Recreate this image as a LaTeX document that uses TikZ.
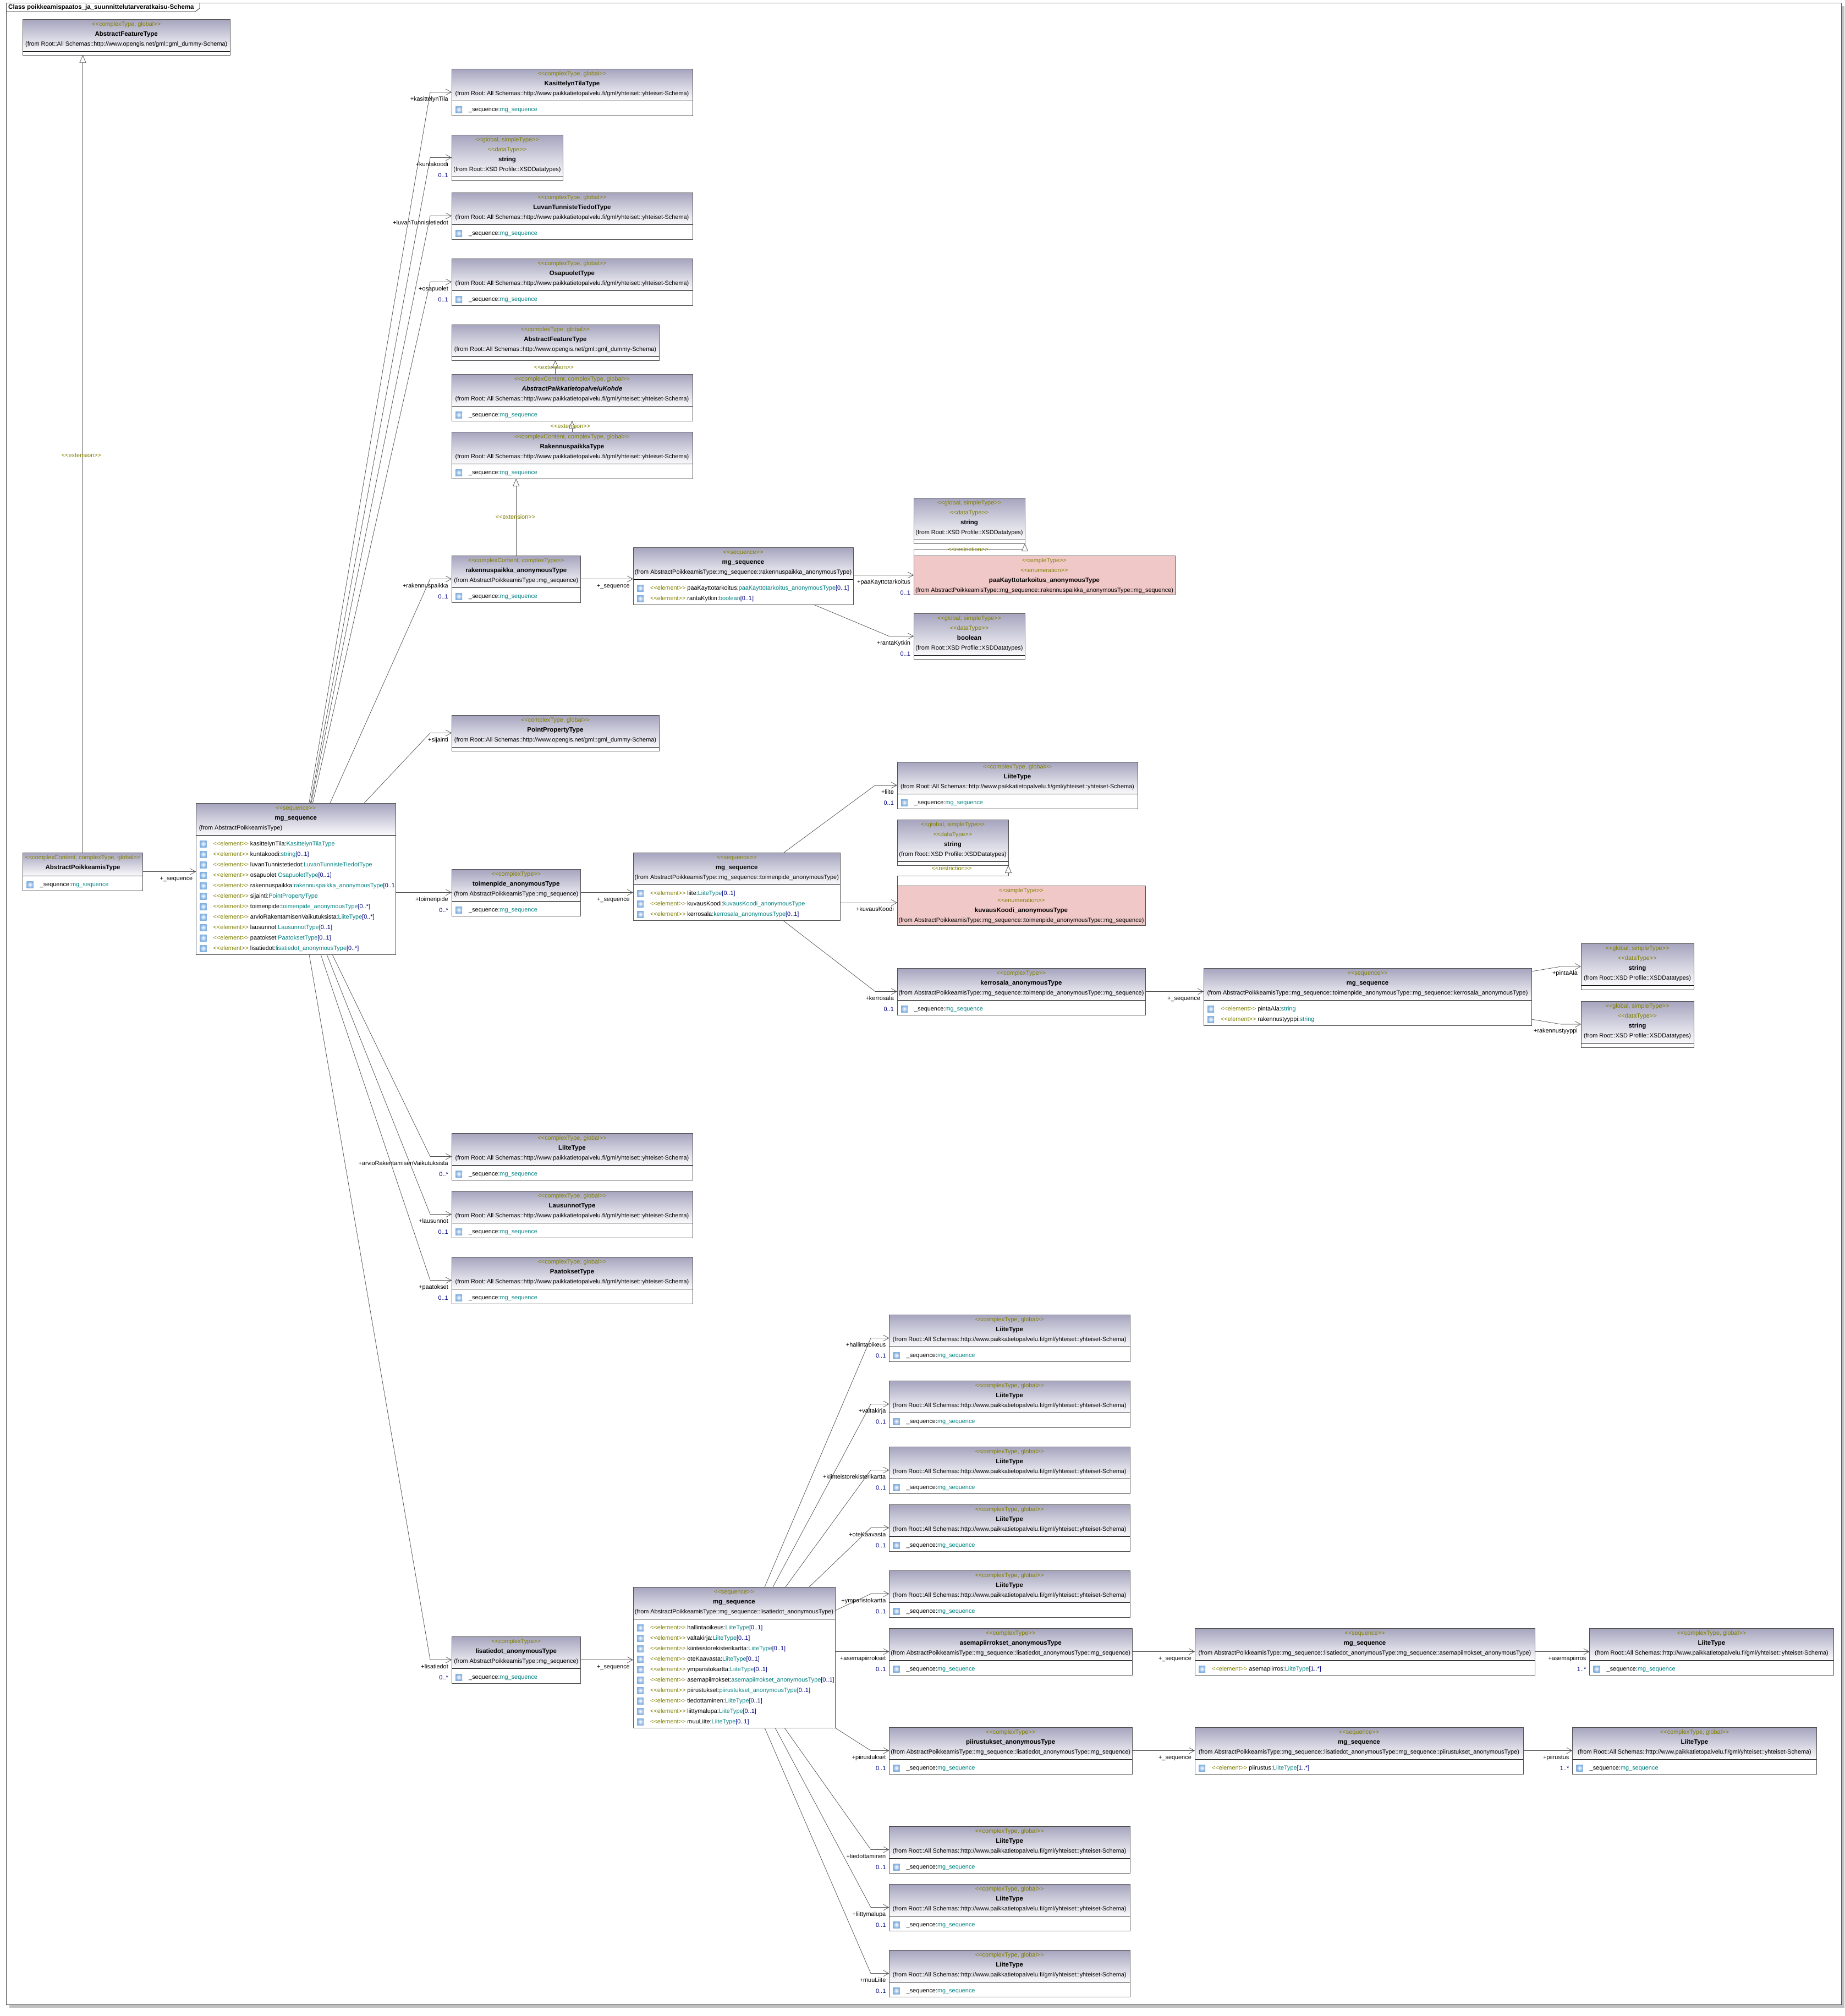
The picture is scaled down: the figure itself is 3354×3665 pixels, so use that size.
\documentclass[tikz,border=0pt]{standalone}
\usepackage{fontspec}
\setmainfont{Liberation Sans}
\usetikzlibrary{arrows.meta}

\definecolor{stereocol}{HTML}{808000}
\definecolor{typecol}{HTML}{008080}
\definecolor{multcol}{HTML}{000080}
\definecolor{edgecol}{HTML}{505050}
\definecolor{headtop}{HTML}{A6A4BE}
\definecolor{headbot}{HTML}{FAFAFC}
\definecolor{enumpink}{HTML}{F0C8C8}
\definecolor{iconblue}{HTML}{7FAEE0}
\definecolor{shadowcol}{HTML}{C0C0C0}

\newcommand{\umlfont}{\fontsize{10.9}{18}\selectfont}
\newcommand{\namefont}{\fontsize{11.5}{18}\selectfont\bfseries}
\newcommand{\stereo}[1]{\textcolor{stereocol}{<{}<#1>{}>}}
\newcommand{\fromall}{(from Root::All Schemas::http://www.paikkatietopalvelu.fi/gml/yhteiset::yhteiset-Schema)}
\newcommand{\fromgml}{(from Root::All Schemas::http://www.opengis.net/gml::gml\_dummy-Schema)}
\newcommand{\fromseq}{(from AbstractPoikkeamisType::mg\_sequence)}
\newcommand{\typeline}[3]{\stereo{#1}\\{\namefont #2}\\#3}
\newcommand{\xsdhead}[1]{\stereo{global, simpleType}\\\stereo{dataType}\\{\namefont #1}\\(from Root::XSD Profile::XSDDatatypes)}
\newcommand{\enumhead}[2]{\stereo{simpleType}\\\stereo{enumeration}\\{\namefont #1}\\#2}
\newcommand{\elemrow}[3]{\stereo{element} #1:\textcolor{typecol}{#2}\textcolor{multcol}{#3}}

\tikzset{
  classbox/.style={rectangle,inner sep=0pt,outer sep=0pt,fill=white},
  classhead/.style={top color=headtop,bottom color=headbot},
  enumfill/.style={fill=enumpink},
  sepline/.style={black,line width=0.9pt},
  classborder/.style={edgecol,line width=1pt},
  headtext/.style={inner sep=0pt,align=center,font=\umlfont},
  rowtext/.style={inner sep=0pt,anchor=west,font=\umlfont},
  rowicon/.style={rectangle,inner sep=0pt,minimum size=12pt,inner color=white,outer color=iconblue},
  roletext/.style={inner sep=0pt,anchor=east,font=\umlfont},
  stereotext/.style={inner sep=0pt,font=\umlfont},
  assoc/.style={edgecol,line width=0.75pt,-{Straight Barb[length=10pt,width=11pt,line width=0.75pt]}},
  extend/.style={edgecol,line width=0.75pt,-{Triangle[open,length=14pt,width=12pt,fill=white,line width=0.75pt]}}
}

% class box: [head fill]{name}{x}{y}{w}{h}{compartment line}{head text}
\newcommand{\umlclass}[8][classhead]{
  \node[classbox,minimum width=#5,minimum height=#6,anchor=north west] (#2) at (#3,#4) {};
  \path[#1] (#2.north west) rectangle ([yshift=-#7]#2.north east);
  \draw[sepline] ([yshift=-#7]#2.north west) -- ([yshift=-#7]#2.north east);
  \draw[classborder] (#2.north west) rectangle (#2.south east);
  \node[headtext,anchor=north] (#2-head) at (#2.north) {\strut #8};
}
\newcommand{\umlrows}[3]{
  \foreach \rowitem [count=\k] in {#3} {
    \pgfmathsetmacro{\rowy}{#2+16+19*(\k-1)}
    \node[rowicon] (#1-icon\k) at ([xshift=13,yshift=-\rowy]#1.north west) {};
    \node[rowtext] (#1-row\k) at ([xshift=31,yshift=-\rowy]#1.north west) {\strut\rowitem};
  }
}
\newcommand{\seqrow}[2][58]{\umlrows{#2}{#1}{{\_sequence:\textcolor{typecol}{mg\_sequence}}}}
% link: [elbow]{(source)}{target}{prefix}{role}{multiplicity}
\newcommand{\linkto}[6][39]{
  \draw[assoc] #2 -- ([xshift=-#1]#3) -- (#3);
  \node[roletext] (#4-role) at ([xshift=-6,yshift=-12]#3) {\strut #5};
  \if\relax\detokenize{#6}\relax\else
    \node[roletext,text=multcol] (#4-mult) at ([xshift=-6,yshift=-32]#3) {\strut #6};
  \fi
}

\begin{document}
\begin{tikzpicture}[x=1pt,y=-1pt]
\useasboundingbox (0,0) rectangle (3354,3665);

% frame
\fill[shadowcol] (17,3644) rectangle (3353,3650);
\fill[shadowcol] (3347,11) rectangle (3353,3650);
\node[rectangle,inner sep=0pt,outer sep=0pt,draw=edgecol,line width=1pt,fill=white,minimum width=3336,minimum height=3639,anchor=north west] (diagram) at (11,5) {};
\draw[edgecol,line width=1pt] (11,21) -- (355,21) -- (363,15) -- (363,5);
\node[inner sep=0pt,anchor=west,font=\fontsize{11.5}{18}\selectfont\bfseries] (diagramtitle) at (15,13) {\strut Class poikkeamispaatos\_ja\_suunnittelutarveratkaisu-Schema};

% left column
\umlclass{aft}{41.5}{35}{376.5}{65}{58}{\typeline{complexType, global}{AbstractFeatureType}{\fromgml}}
\umlclass{absp}{41.5}{1550}{218}{69}{42}{\stereo{complexContent, complexType, global}\\{\namefont AbstractPoikkeamisType}}
\seqrow[42]{absp}
\umlclass{main}{356.5}{1460}{362.5}{275}{58}{\typeline{sequence}{mg\_sequence}{\makebox[352pt][l]{(from AbstractPoikkeamisType)}}}
\umlrows{main}{58}{
  \elemrow{kasittelynTila}{KasittelynTilaType}{},
  \elemrow{kuntakoodi}{string}{[0..1]},
  \elemrow{luvanTunnistetiedot}{LuvanTunnisteTiedotType}{},
  \elemrow{osapuolet}{OsapuoletType}{[0..1]},
  \elemrow{rakennuspaikka}{rakennuspaikka\_anonymousType}{[0..1},
  \elemrow{sijainti}{PointPropertyType}{},
  \elemrow{toimenpide}{toimenpide\_anonymousType}{[0..*]},
  \elemrow{arvioRakentamisenVaikutuksista}{LiiteType}{[0..*]},
  \elemrow{lausunnot}{LausunnotType}{[0..1]},
  \elemrow{paatokset}{PaatoksetType}{[0..1]},
  \elemrow{lisatiedot}{lisatiedot\_anonymousType}{[0..*]}}

% second column
\umlclass{kasittely}{821}{125}{438}{85}{58}{\typeline{complexType, global}{KasittelynTilaType}{\fromall}}
\seqrow{kasittely}
\umlclass{kuntastr}{821}{245}{202}{83}{76}{\xsdhead{string}}
\umlclass{luvan}{821}{350}{438}{85}{58}{\typeline{complexType, global}{LuvanTunnisteTiedotType}{\fromall}}
\seqrow{luvan}
\umlclass{osapuolet}{821}{470}{438}{85}{58}{\typeline{complexType, global}{OsapuoletType}{\fromall}}
\seqrow{osapuolet}
\umlclass{aftb}{821}{590}{377}{65}{58}{\typeline{complexType, global}{AbstractFeatureType}{\fromgml}}
\umlclass{kohde}{821}{680}{438}{85}{58}{\typeline{complexContent, complexType, global}{\itshape AbstractPaikkatietopalveluKohde}{\fromall}}
\seqrow{kohde}
\umlclass{rakenn}{821}{785}{438}{85}{58}{\typeline{complexContent, complexType, global}{RakennuspaikkaType}{\fromall}}
\seqrow{rakenn}
\umlclass{rakan}{821}{1010}{234.5}{85}{58}{\typeline{complexContent, complexType}{rakennuspaikka\_anonymousType}{\fromseq}}
\seqrow{rakan}
\umlclass{point}{821}{1300}{377}{65}{58}{\typeline{complexType, global}{PointPropertyType}{\fromgml}}
\umlclass{toim}{821}{1580}{234.5}{85}{58}{\typeline{complexType}{toimenpide\_anonymousType}{\fromseq}}
\seqrow{toim}
\umlclass{arvio}{821}{2060}{438}{85}{58}{\typeline{complexType, global}{LiiteType}{\fromall}}
\seqrow{arvio}
\umlclass{lausunnot}{821}{2165}{438}{85}{58}{\typeline{complexType, global}{LausunnotType}{\fromall}}
\seqrow{lausunnot}
\umlclass{paatokset}{821}{2285}{438}{85}{58}{\typeline{complexType, global}{PaatoksetType}{\fromall}}
\seqrow{paatokset}
\umlclass{lis}{821}{2975}{234.5}{85}{58}{\typeline{complexType}{lisatiedot\_anonymousType}{\fromseq}}
\seqrow{lis}

% rakennuspaikka branch
\umlclass{rseq}{1151}{995}{400}{104}{58}{\typeline{sequence}{mg\_sequence}{(from AbstractPoikkeamisType::mg\_sequence::rakennuspaikka\_anonymousType)}}
\umlrows{rseq}{58}{
  \elemrow{paaKayttotarkoitus}{paaKayttotarkoitus\_anonymousType}{[0..1]},
  \elemrow{rantaKytkin}{boolean}{[0..1]}}
\umlclass{paastr}{1661}{905}{202}{83}{76}{\xsdhead{string}}
\umlclass[enumfill]{paak}{1661}{1010}{475}{71}{71}{\enumhead{paaKayttotarkoitus\_anonymousType}{(from AbstractPoikkeamisType::mg\_sequence::rakennuspaikka\_anonymousType::mg\_sequence)}}
\umlclass{bool}{1661}{1115}{202}{83}{76}{\xsdhead{boolean}}

% toimenpide branch
\umlclass{tseq}{1151}{1550}{376.5}{123}{58}{\typeline{sequence}{mg\_sequence}{(from AbstractPoikkeamisType::mg\_sequence::toimenpide\_anonymousType)}}
\umlrows{tseq}{58}{
  \elemrow{liite}{LiiteType}{[0..1]},
  \elemrow{kuvausKoodi}{kuvausKoodi\_anonymousType}{},
  \elemrow{kerrosala}{kerrosala\_anonymousType}{[0..1]}}
\umlclass{tliite}{1631}{1385}{437}{85}{58}{\typeline{complexType, global}{LiiteType}{\fromall}}
\seqrow{tliite}
\umlclass{kuvstr}{1631}{1490}{202}{83}{76}{\xsdhead{string}}
\umlclass[enumfill]{kuvaus}{1631}{1610}{451}{72}{72}{\enumhead{kuvausKoodi\_anonymousType}{(from AbstractPoikkeamisType::mg\_sequence::toimenpide\_anonymousType::mg\_sequence)}}
\umlclass{kerr}{1631}{1760}{451}{85}{58}{\typeline{complexType}{kerrosala\_anonymousType}{(from AbstractPoikkeamisType::mg\_sequence::toimenpide\_anonymousType::mg\_sequence)}}
\seqrow{kerr}
\umlclass{kseq}{2188}{1760}{596}{104}{58}{\typeline{sequence}{mg\_sequence}{(from AbstractPoikkeamisType::mg\_sequence::toimenpide\_anonymousType::mg\_sequence::kerrosala\_anonymousType)}}
\umlrows{kseq}{58}{
  \elemrow{pintaAla}{string}{},
  \elemrow{rakennustyyppi}{string}{}}
\umlclass{pintastr}{2874}{1715}{205}{84}{76}{\xsdhead{string}}
\umlclass{tyyppistr}{2874}{1820}{205}{84}{76}{\xsdhead{string}}

% lisatiedot branch
\umlclass{lseq}{1151}{2885}{367}{256}{58}{\typeline{sequence}{mg\_sequence}{(from AbstractPoikkeamisType::mg\_sequence::lisatiedot\_anonymousType)}}
\umlrows{lseq}{58}{
  \elemrow{hallintaoikeus}{LiiteType}{[0..1]},
  \elemrow{valtakirja}{LiiteType}{[0..1]},
  \elemrow{kiinteistorekisterikartta}{LiiteType}{[0..1]},
  \elemrow{oteKaavasta}{LiiteType}{[0..1]},
  \elemrow{ymparistokartta}{LiiteType}{[0..1]},
  \elemrow{asemapiirrokset}{asemapiirrokset\_anonymousType}{[0..1]},
  \elemrow{piirustukset}{piirustukset\_anonymousType}{[0..1]},
  \elemrow{tiedottaminen}{LiiteType}{[0..1]},
  \elemrow{liittymalupa}{LiiteType}{[0..1]},
  \elemrow{muuLiite}{LiiteType}{[0..1]}}
\umlclass{hallinta}{1616.5}{2390}{437.5}{85}{58}{\typeline{complexType, global}{LiiteType}{\fromall}}
\seqrow{hallinta}
\umlclass{valta}{1616.5}{2510}{437.5}{85}{58}{\typeline{complexType, global}{LiiteType}{\fromall}}
\seqrow{valta}
\umlclass{kiint}{1616.5}{2630}{437.5}{85}{58}{\typeline{complexType, global}{LiiteType}{\fromall}}
\seqrow{kiint}
\umlclass{ote}{1616.5}{2735}{437.5}{85}{58}{\typeline{complexType, global}{LiiteType}{\fromall}}
\seqrow{ote}
\umlclass{ymp}{1616.5}{2855}{437.5}{85}{58}{\typeline{complexType, global}{LiiteType}{\fromall}}
\seqrow{ymp}
\umlclass{aspi}{1616.5}{2960}{441.5}{85}{58}{\typeline{complexType}{asemapiirrokset\_anonymousType}{(from AbstractPoikkeamisType::mg\_sequence::lisatiedot\_anonymousType::mg\_sequence)}}
\seqrow{aspi}
\umlclass{piir}{1616.5}{3140}{441.5}{85}{58}{\typeline{complexType}{piirustukset\_anonymousType}{(from AbstractPoikkeamisType::mg\_sequence::lisatiedot\_anonymousType::mg\_sequence)}}
\seqrow{piir}
\umlclass{tied}{1616.5}{3320}{437.5}{85}{58}{\typeline{complexType, global}{LiiteType}{\fromall}}
\seqrow{tied}
\umlclass{liitt}{1616.5}{3425}{437.5}{85}{58}{\typeline{complexType, global}{LiiteType}{\fromall}}
\seqrow{liitt}
\umlclass{muu}{1616.5}{3545}{437.5}{85}{58}{\typeline{complexType, global}{LiiteType}{\fromall}}
\seqrow{muu}
\umlclass{aseq}{2172}{2960}{618}{85}{58}{\typeline{sequence}{mg\_sequence}{(from AbstractPoikkeamisType::mg\_sequence::lisatiedot\_anonymousType::mg\_sequence::asemapiirrokset\_anonymousType)}}
\umlrows{aseq}{58}{\elemrow{asemapiirros}{LiiteType}{[1..*]}}
\umlclass{pseq}{2172}{3140}{597}{85}{58}{\typeline{sequence}{mg\_sequence}{(from AbstractPoikkeamisType::mg\_sequence::lisatiedot\_anonymousType::mg\_sequence::piirustukset\_anonymousType)}}
\umlrows{pseq}{58}{\elemrow{piirustus}{LiiteType}{[1..*]}}
\umlclass{aliite}{2889.5}{2960}{444}{85}{58}{\typeline{complexType, global}{LiiteType}{\fromall}}
\seqrow{aliite}
\umlclass{pliite}{2858.5}{3140}{444}{85}{58}{\typeline{complexType, global}{LiiteType}{\fromall}}
\seqrow{pliite}

% generalisations
\draw[extend] (absp.north) -- (absp.north |- aft.south);
\node[stereotext] (extaft) at (148,828) {\stereo{extension}};
\draw[extend] (aftb.south |- kohde.north) -- (aftb.south);
\node[stereotext] (extkohde) at (1007,668) {\stereo{extension}};
\draw[extend] (kohde.south |- rakenn.north) -- (kohde.south);
\node[stereotext] (extrakenn) at (1037,775) {\stereo{extension}};
\draw[extend] (rakan.north) -- (rakan.north |- rakenn.south);
\node[stereotext] (extrakan) at (937,940) {\stereo{extension}};
\coordinate (paabend) at (1661,999);
\draw[extend] (paak.north west) -- (paabend) -- (paabend -| paastr.south east) -- (paastr.south east);
\node[stereotext] (restrpaa) at (1760,999) {\stereo{restriction}};
\coordinate (kuvbend) at (1631,1592);
\draw[extend] (kuvaus.north west) -- (kuvbend) -- (kuvbend -| kuvstr.south east) -- (kuvstr.south east);
\node[stereotext] (restrkuv) at (1730,1579) {\stereo{restriction}};

% links from the left column
\coordinate (mainin) at (absp.east -| main.west);
\linkto{(absp.east)}{mainin}{mainseq}{+\_sequence}{}
\linkto{([xshift=205.3]main.north west)}{kasittely.west}{kasittely}{+kasittelynTila}{}
\linkto{([xshift=207.9]main.north west)}{kuntastr.west}{kuntastr}{+kuntakoodi}{0..1}
\linkto{([xshift=209.3]main.north west)}{luvan.west}{luvan}{+luvanTunnistetiedot}{}
\linkto{([xshift=212]main.north west)}{osapuolet.west}{osapuolet}{+osapuolet}{0..1}
\linkto{([xshift=243.5]main.north west)}{rakan.west}{rakan}{+rakennuspaikka}{0..1}
\linkto{([xshift=305.5]main.north west)}{point.west}{point}{+sijainti}{}
\linkto{(main.east |- toim.west)}{toim.west}{toim}{+toimenpide}{0..*}
\linkto{([xshift=247.5]main.south west)}{arvio.west}{arvio}{+arvioRakentamisenVaikutuksista}{0..*}
\linkto{([xshift=237.5]main.south west)}{lausunnot.west}{lausunnot}{+lausunnot}{0..1}
\linkto{([xshift=226.5]main.south west)}{paatokset.west}{paatokset}{+paatokset}{0..1}
\linkto{([xshift=205.5]main.south west)}{lis.west}{lis}{+lisatiedot}{0..*}

% rakennuspaikka links
\coordinate (rseqin) at (rakan.east -| rseq.west);
\linkto{(rakan.east)}{rseqin}{rseqlink}{+\_sequence}{}
\coordinate (paakin) at (paak.west);
\linkto{(rseq.east |- paakin)}{paakin}{paak}{+paaKayttotarkoitus}{0..1}
\linkto[45]{([xshift=328]rseq.south west)}{bool.west}{bool}{+rantaKytkin}{0..1}

% toimenpide links
\coordinate (tseqin) at (toim.east -| tseq.west);
\linkto{(toim.east)}{tseqin}{tseqlink}{+\_sequence}{}
\linkto[40]{([xshift=274]tseq.north west)}{tliite.west}{tliite}{+liite}{0..1}
\coordinate (kuvausin) at (1631,1641);
\linkto{(tseq.east |- kuvausin)}{kuvausin}{kuvaus}{+kuvausKoodi}{}
\linkto[40]{([xshift=272]tseq.south west)}{kerr.west}{kerr}{+kerrosala}{0..1}
\coordinate (kseqin) at (kerr.east -| kseq.west);
\linkto{(kerr.east)}{kseqin}{kseqlink}{+\_sequence}{}
\linkto[36]{([yshift=-6]kseq.north east)}{pintastr.west}{pintastr}{+pintaAla}{}
\linkto[36]{([yshift=11]kseq.south east)}{tyyppistr.west}{tyyppistr}{+rakennustyyppi}{}

% lisatiedot links
\coordinate (lseqin) at (lis.east -| lseq.west);
\linkto{(lis.east)}{lseqin}{lseqlink}{+\_sequence}{}
\linkto[33.5]{([xshift=239]lseq.north west)}{hallinta.west}{hallinta}{+hallintaoikeus}{0..1}
\linkto[33.5]{([xshift=254]lseq.north west)}{valta.west}{valta}{+valtakirja}{0..1}
\linkto[33.5]{([xshift=277]lseq.north west)}{kiint.west}{kiint}{+kiinteistorekisterikartta}{0..1}
\linkto[33.5]{([xshift=320]lseq.north west)}{ote.west}{ote}{+oteKaavasta}{0..1}
\linkto[33.5]{([yshift=-43]lseq.north east)}{ymp.west}{ymp}{+ymparistokartta}{0..1}
\linkto[33.5]{(lseq.east |- aspi.west)}{aspi.west}{aspi}{+asemapiirrokset}{0..1}
\linkto[33.5]{(lseq.south east)}{piir.west}{piir}{+piirustukset}{0..1}
\linkto[33.5]{([xshift=275]lseq.south west)}{tied.west}{tied}{+tiedottaminen}{0..1}
\linkto[33.5]{([xshift=258]lseq.south west)}{liitt.west}{liitt}{+liittymalupa}{0..1}
\linkto[33.5]{([xshift=239]lseq.south west)}{muu.west}{muu}{+muuLiite}{0..1}
\coordinate (aseqin) at (aspi.east -| aseq.west);
\linkto{(aspi.east)}{aseqin}{aseqlink}{+\_sequence}{}
\linkto{(aseq.east)}{aliite.west}{aliite}{+asemapiirros}{1..*}
\coordinate (pseqin) at (piir.east -| pseq.west);
\linkto{(piir.east)}{pseqin}{pseqlink}{+\_sequence}{}
\linkto{(pseq.east)}{pliite.west}{pliite}{+piirustus}{1..*}

\end{tikzpicture}
\end{document}
